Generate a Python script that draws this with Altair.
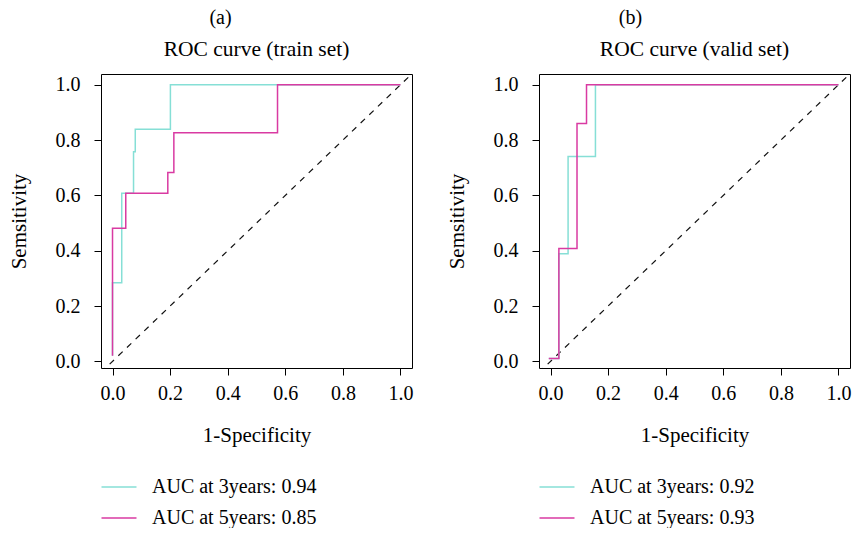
import altair as alt
import pandas as pd

# ---- data ----
train_3y_fpr = [0.0, 0.0, 0.032, 0.073, 0.079, 0.201, 1.0]
train_3y_tpr = [0.02, 0.284, 0.608, 0.758, 0.839, 1.0, 1.0]
train_5y_fpr = [0.0, 0.0, 0.046, 0.192, 0.213, 0.573, 1.0]
train_5y_tpr = [0.02, 0.481, 0.608, 0.683, 0.827, 1.0, 1.0]

valid_3y_fpr = [-0.006, 0.029, 0.061, 0.156, 1.0]
valid_3y_tpr = [0.01, 0.389, 0.741, 1.0, 1.0]
valid_5y_fpr = [-0.006, 0.029, 0.092, 0.125, 1.0]
valid_5y_tpr = [0.01, 0.408, 0.86, 1.0, 1.0]

train_labels = ["AUC at 3years: 0.94", "AUC at 5years: 0.85"]
valid_labels = ["AUC at 3years: 0.92", "AUC at 5years: 0.93"]

diag_x = [-0.04, 1.04]
diag_y = [-0.04, 1.04]

ticks = [0.0, 0.2, 0.4, 0.6, 0.8, 1.0]

CYAN = "#86DFD6"
MAGENTA = "#D93AA2"
FONT = "Liberation Serif"


def curve_df(fpr, tpr, label):
    return pd.DataFrame({"fpr": fpr, "tpr": tpr, "label": label, "idx": list(range(len(fpr)))})


def panel(curves, labels, title, letter, letter_dx):
    df = pd.concat(curves, ignore_index=True)
    diag = pd.DataFrame({"fpr": diag_x, "tpr": diag_y})
    xscale = alt.Scale(domain=[-0.04, 1.04], nice=False, zero=False)
    yscale = alt.Scale(domain=[-0.024, 1.039], nice=False, zero=False)
    xaxis = alt.Axis(values=ticks, format=".1f", title="1-Specificity", grid=False,
                     domain=False, tickSize=7, tickColor="black", labelPadding=8,
                     titlePadding=21)
    yaxis = alt.Axis(values=ticks, format=".1f", title="Semsitivity", grid=False,
                     domain=False, tickSize=7, tickColor="black", labelPadding=14,
                     titlePadding=26)
    d = alt.Chart(diag).mark_line(color="#111111", strokeDash=[6, 6], strokeWidth=1.2,
                                  clip=True).encode(
        x=alt.X("fpr:Q", scale=xscale, axis=xaxis),
        y=alt.Y("tpr:Q", scale=yscale, axis=yaxis),
    )
    lines = alt.Chart(df).mark_line(interpolate="step-after", strokeWidth=1.5,
                                    clip=True).encode(
        x=alt.X("fpr:Q", scale=xscale, axis=xaxis),
        y=alt.Y("tpr:Q", scale=yscale, axis=yaxis),
        color=alt.Color("label:N", sort=labels,
                        scale=alt.Scale(domain=labels, range=[CYAN, MAGENTA]),
                        legend=alt.Legend(title=None, orient="none", legendX=8, legendY=403,
                                          symbolType="M-2,0H2", symbolSize=306,
                                          symbolStrokeWidth=1.5, labelOffset=23,
                                          rowPadding=11, padding=0, labelFontSize=20,
                                          labelLimit=0,
                                          labelFont=FONT, labelColor="black")),
        order="idx:Q",
    )
    layer = alt.layer(d, lines).properties(
        width=311, height=294,
        title=alt.TitleParams(title, frame="group", anchor="middle", offset=14,
                              fontSize=21.5, font=FONT, fontWeight="normal", color="black"),
    )
    return alt.vconcat(layer, title=alt.TitleParams(letter, anchor="middle", dx=letter_dx,
                                                    offset=10, fontSize=20, font=FONT,
                                                    fontWeight="normal", color="black"))


left = panel([curve_df(train_3y_fpr, train_3y_tpr, train_labels[0]),
              curve_df(train_5y_fpr, train_5y_tpr, train_labels[1])],
             train_labels, "ROC curve (train set)", "(a)", 10)
right = panel([curve_df(valid_3y_fpr, valid_3y_tpr, valid_labels[0]),
               curve_df(valid_5y_fpr, valid_5y_tpr, valid_labels[1])],
              valid_labels, "ROC curve (valid set)", "(b)", -18)

chart = alt.hconcat(left, right, spacing=31).resolve_scale(color="independent").properties(
    padding={"left": 7, "top": 8, "right": 0, "bottom": 0},
    background="white",
).configure_view(stroke="black", strokeWidth=1).configure_axis(
    labelFont=FONT, titleFont=FONT, labelFontSize=20, titleFontSize=21,
    labelColor="black", titleColor="black", titleFontWeight="normal",
)

chart.save("out.html", embed_options={"renderer": "svg", "actions": False})
